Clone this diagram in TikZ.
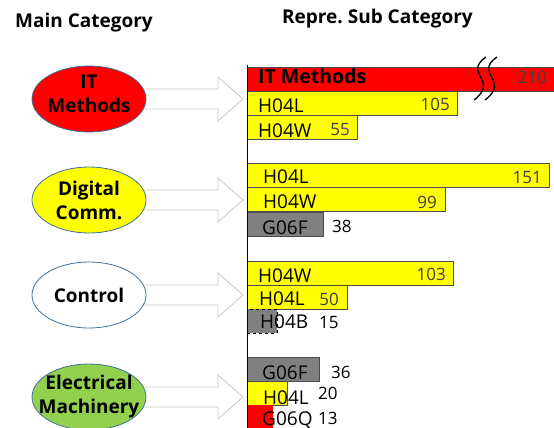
\documentclass[tikz,border=0pt]{standalone}
\usepackage{fontspec}
\setmainfont{Open Sans}
\usetikzlibrary{shapes.geometric}
\definecolor{cred}{HTML}{FF0000}
\definecolor{cyel}{HTML}{FFFF00}
\definecolor{cgray}{HTML}{808080}
\definecolor{cgreen}{HTML}{92D050}
\definecolor{ellline}{HTML}{41719C}
\definecolor{arrline}{HTML}{C8C8C8}
\definecolor{numgray}{HTML}{404040}
\begin{document}
\begin{tikzpicture}[x=1pt,y=-1pt,
  title/.style={anchor=base west, inner sep=0, font=\bfseries\fontsize{19}{22}\selectfont},
  cat/.style={ellipse, draw=ellline, line width=0.8pt, minimum width=114, minimum height=66,
    inner sep=0},
  cattext/.style={align=center, inner sep=0, font=\bfseries\fontsize{19}{24}\selectfont},
  blk/.style={draw=arrline, fill=white, line width=0.8pt, line join=miter},
  bar/.style={draw=black!70, line width=0.6pt, anchor=north west, minimum height=24,
    inner sep=0, outer sep=0},
  lbl/.style={anchor=base west, inner sep=0, font=\fontsize{19}{22}\selectfont},
  num/.style={anchor=base east, inner sep=0, text=numgray, font=\fontsize{17}{20}\selectfont},
  onum/.style={anchor=base west, inner sep=0, font=\fontsize{17}{20}\selectfont},
  brk/.style={black, line width=1.3pt}
]
\useasboundingbox (0,0) rectangle (554,428);

% titles
\node[title] (t1) at (15,28) {Main Category};
\node[title] (t2) at (282,24) {Repre.\ Sub Category};

% category ellipse positions
\coordinate (c1) at (89,99);
\coordinate (c2) at (89,200);
\coordinate (c3) at (89,295);
\coordinate (c4) at (89,397);

% block arrows (drawn first, ellipses cover their tails)
\foreach \c in {c1,c2,c3,c4}{
  \draw[blk] ([shift={(50,-10)}]\c) -- ++(79,0) -- ++(0,-12) -- ++(25,22)
    -- ++(-25,22) -- ++(0,-12) -- ++(-79,0) -- cycle;
}

% ellipses
\node[cat, fill=cred] (e1) at (c1) {};
\node[cattext] (e1t) at ([yshift=5pt]c1) {IT\\Methods};
\node[cat, fill=cyel] (e2) at (c2) {};
\node[cattext] (e2t) at (c2) {Digital\\Comm.};
\node[cat, fill=white] (e3) at (c3) {};
\node[cattext] (e3t) at (c3) {Control};
\node[cat, fill=cgreen] (e4) at (c4) {};
\node[cattext] (e4t) at (c4) {Electrical\\Machinery};

% group 1
\node[bar, fill=cred, minimum width=312] (b10) at (247,67) {};
\node[lbl, font=\bfseries\fontsize{19.5}{22}\selectfont] (l10) at ([shift={(11,17)}]b10.north west) {IT Methods};
\node[num] (n10) at (547,84) {210};
\node[bar, fill=cyel, minimum width=210] (b11) at (247,91) {};
\node[lbl] (l11) at ([shift={(11,21)}]b11.north west) {H04L};
\node[num] (n11) at ([shift={(-7,19)}]b11.north east) {105};
\node[bar, fill=cyel, minimum width=110] (b12) at (247,115) {};
\node[lbl] (l12) at ([shift={(11,22)}]b12.north west) {H04W};
\node[num] (n12) at ([shift={(-7,20)}]b12.north east) {55};

% break mark
\draw[brk] (486,57) .. controls (462,74) and (500,80) .. (474,100);
\draw[brk] (497,57) .. controls (473,74) and (511,80) .. (485,100);

% group 2
\node[bar, fill=cyel, minimum width=302] (b21) at (247,163) {};
\node[lbl] (l21) at ([shift={(16,20)}]b21.north west) {H04L};
\node[num] (n21) at ([shift={(-7,20)}]b21.north east) {151};
\node[bar, fill=cyel, minimum width=198] (b22) at (247,187) {};
\node[lbl] (l22) at ([shift={(16,21)}]b22.north west) {H04W};
\node[num] (n22) at ([shift={(-8,21)}]b22.north east) {99};
\node[bar, fill=cgray, minimum width=76] (b23) at (247,212) {};
\node[lbl] (l23) at ([shift={(15,22)}]b23.north west) {G06F};
\node[onum] (n23) at (332,232) {38};

% group 3
\node[bar, fill=cyel, minimum width=206] (b31) at (247,261) {};
\node[lbl] (l31) at ([shift={(11,21)}]b31.north west) {H04W};
\node[num] (n31) at ([shift={(-7,19)}]b31.north east) {103};
\node[bar, fill=cyel, minimum width=100] (b32) at (247,285) {};
\node[lbl] (l32) at ([shift={(12,20)}]b32.north west) {H04L};
\node[num] (n32) at ([shift={(-8,20)}]b32.north east) {50};
\node[bar, fill=cgray, draw=black, dashed, minimum width=30] (b33) at (247,309) {};
\node[lbl] (l33) at ([shift={(13,19)}]b33.north west) {H04B};
\node[onum] (n33) at (319,328) {15};

% group 4
\node[bar, fill=cgray, minimum width=72] (b41) at (247,357) {};
\node[lbl] (l41) at ([shift={(15,22)}]b41.north west) {G06F};
\node[onum] (n41) at (331,378) {36};
\node[bar, fill=cyel, minimum width=40] (b42) at (247,381) {};
\node[lbl] (l42) at ([shift={(16,23)}]b42.north west) {H04L};
\node[onum] (n42) at (318,399) {20};
\node[bar, fill=cred, draw=none, minimum width=26] (b43) at (247,405) {};
\node[lbl] (l43) at ([shift={(15,20)}]b43.north west) {G06Q};
\node[onum] (n43) at (318,424) {13};

% axis
\coordinate (axtop) at (247,65);
\coordinate (axbot) at (247,430);
\draw[black, line width=0.8pt] (axtop) -- (axbot);
\end{tikzpicture}
\end{document}
